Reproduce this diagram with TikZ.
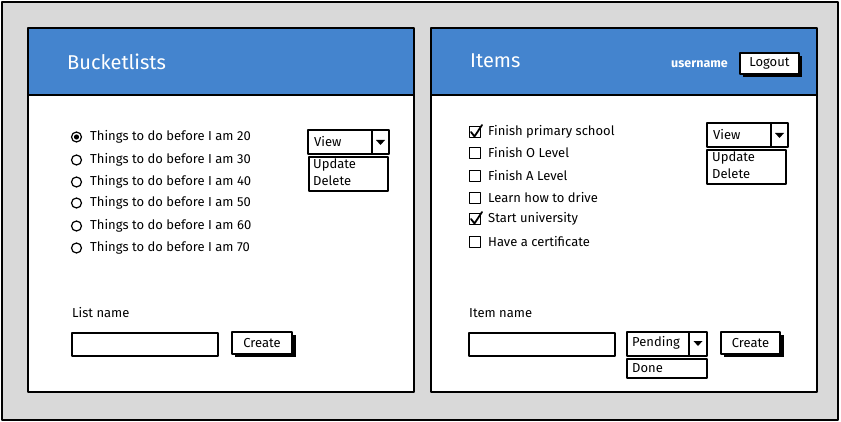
\documentclass[tikz,border=0pt]{standalone}
\usepackage{fontspec}
\setmainfont{Fira Sans}
\definecolor{hdr}{RGB}{68,132,206}
\definecolor{bgc}{RGB}{217,217,217}
\begin{document}
\begin{tikzpicture}[x=1pt,y=-1pt,line join=round,
  lw/.style={line width=1.6pt},
  thin/.style={line width=1.2pt},
  txt/.style={font=\fontsize{13}{15}\selectfont,anchor=west,inner sep=0pt},
  ctxt/.style={font=\fontsize{13}{15}\selectfont,inner sep=0pt},
  ttl/.style={font=\fontsize{20}{24}\selectfont,text=white,anchor=west,inner sep=0pt}]
\useasboundingbox (0,0) rectangle (841,422);
% outer frame
\draw[lw,fill=bgc] (2,2) rectangle (838,420);
% left panel
\fill[white] (28,28) rectangle (414,392);
\fill[hdr] (28,28) rectangle (414,95);
\draw[lw] (28,28) rectangle (414,392);
\draw[lw] (28,95) -- (414,95);
% right panel
\fill[white] (431,28) rectangle (817,392);
\fill[hdr] (431,28) rectangle (817,95);
\draw[lw] (431,28) rectangle (817,392);
\draw[lw] (431,95) -- (817,95);
% titles
\node[ttl] (t1) at (67,62) {Bucketlists};
\node[ttl] (t2) at (470,61) {Items};
\node[txt,text=white,font=\fontsize{12.5}{14}\selectfont\bfseries] (user) at (671,64) {username};
% logout
\fill (743,56) rectangle (802,77);
\draw[thin,fill=white] (740,53) rectangle (799,74);
\node[ctxt] (logout) at (769.5,63.5) {Logout};
% radios
\foreach \y/\n [count=\i] in {137/20,160/30,182/40,203/50,226/60,248/70}{
  \draw[thin] (76.5,\y) circle (5pt);
  \node[txt] (r\i) at (90,\y) {Things to do before I am \n};
}
\fill (76.5,137) circle (2.6pt);
% left dropdown
\draw[lw,fill=white] (308,130) rectangle (389,154);
\draw[lw] (372,130) -- (372,154);
\fill (376,140) -- (385,140) -- (380.5,145) -- cycle;
\node[txt] (lview) at (314,142) {View};
\draw[lw,fill=white] (309,157) rectangle (388,191);
\node[txt] (lupd) at (313,165) {Update};
\node[txt] (ldel) at (313,181) {Delete};
% checkboxes
\foreach \y/\t [count=\i] in {132/Finish primary school,153/Finish O Level,176/Finish A Level,198/Learn how to drive,219/Start university,242/Have a certificate}{
  \draw[line width=1pt] (469,\y-5.5) rectangle (480,\y+5.5);
  \node[txt] (c\i) at (488,\y) {\t};
}
\foreach \y in {132,219}{
  \draw[line width=1.8pt,line cap=round] (471,\y) -- (474.5,\y+4.5) -- (482,\y-7);
}
% right dropdown
\draw[lw,fill=white] (707,123) rectangle (788,147);
\draw[lw] (771,123) -- (771,147);
\fill (775,133) -- (784,133) -- (779.5,138) -- cycle;
\node[txt] (rview) at (713,135) {View};
\draw[lw,fill=white] (707,150) rectangle (786,184);
\node[txt] (rupd) at (712,158) {Update};
\node[txt] (rdel) at (712,174) {Delete};
% bottom left
\node[txt] (lname) at (72,313) {List name};
\draw[lw,fill=white] (72,333) rectangle (218,356);
\fill (235,335) rectangle (296,357);
\draw[thin,fill=white] (232,332) rectangle (292,354);
\node[ctxt] (lcreate) at (262,343) {Create};
% bottom right
\node[txt] (iname) at (469,313) {Item name};
\draw[lw,fill=white] (469,333) rectangle (615,356);
\draw[lw,fill=white] (627,332) rectangle (707,356);
\draw[lw] (689,332) -- (689,356);
\fill (693.5,341) -- (702.5,341) -- (698,346) -- cycle;
\node[txt] (pend) at (632,343) {Pending};
\draw[lw,fill=white] (627,359) rectangle (707,378);
\node[txt] (done) at (632,368) {Done};
\fill (724,335) rectangle (784,357);
\draw[thin,fill=white] (721,332) rectangle (780,354);
\node[ctxt] (rcreate) at (750.5,343) {Create};
\end{tikzpicture}
\end{document}
